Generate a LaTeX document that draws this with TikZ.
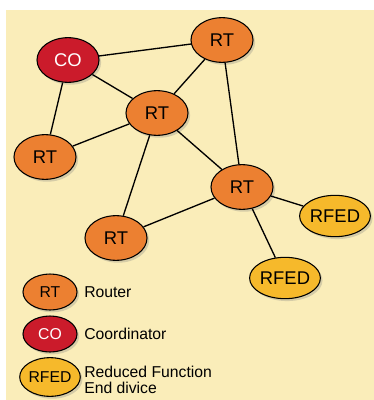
\documentclass[tikz,border=0pt]{standalone}
\usepackage{fontspec}
\setmainfont{Liberation Sans}
\usetikzlibrary{shapes.geometric,shadows}
\definecolor{paper}{HTML}{FAEDB9}
\definecolor{rtorange}{HTML}{EC8031}
\definecolor{cored}{HTML}{CB1B2B}
\definecolor{fedyellow}{HTML}{F6B92B}
\tikzset{
    dev/.style = {
        draw = black,
        line width = 0.8pt,
        ellipse,
        inner sep = 0pt,
        minimum width = 46.5pt,
        minimum height = 33.5pt,
        font = \fontsize{13.8}{14}\selectfont,
        drop shadow = {shadow xshift=1.6pt, shadow yshift=-1.8pt, opacity=0.3},
        },
    router/.style = {
        dev,
        fill = rtorange,
        },
    coord/.style = {
        dev,
        fill = cored,
        text = white,
        },
    rfed/.style = {
        dev,
        fill = fedyellow,
        minimum height = 31pt,
        },
    small/.style = {
        minimum width = 40.5pt,
        minimum height = 27pt,
        font = \fontsize{11.8}{12}\selectfont,
        },
    link/.style = {
        draw = black,
        line width = 1pt,
        },
    label/.style = {
        anchor = west,
        align = left,
        inner sep = 0pt,
        font = \fontsize{11.8}{12.5}\selectfont,
        },
}
\begin{document}
\begin{tikzpicture}[x=0.75pt, y=-0.75pt]
    \useasboundingbox (0,0) rectangle (374,400);
    \fill[paper] (6,10) rectangle (374,400);

    % network
    \node[coord] (co) at (68,60) {CO};
    \node[router] (rt1) at (222,40) {RT};
    \node[router] (rt2) at (157,113) {RT};
    \node[router] (rt3) at (45,157) {RT};
    \node[router] (rt4) at (242,187) {RT};
    \node[router] (rt5) at (116,238) {RT};
    \node[rfed] (fed1) at (335,216) {RFED};
    \node[rfed] (fed2) at (285,278) {RFED};

    \path[link] (co) -- (rt1);
    \path[link] (co) -- (rt2);
    \path[link] (co) -- (rt3);
    \path[link] (rt1) -- (rt2);
    \path[link] (rt1) -- (rt4);
    \path[link] (rt2) -- (rt3);
    \path[link] (rt2) -- (rt4);
    \path[link] (rt2) -- (rt5);
    \path[link] (rt4) -- (rt5);
    \path[link] (rt4) -- (fed1);
    \path[link] (rt4) -- (fed2);

    % legend
    \node[router, small] (keyrt) at (50,292) {RT};
    \node[coord, small] (keyco) at (50,334) {CO};
    \node[rfed, small, minimum height=29pt] (keyfed) at (50,377) {RFED};
    \node[label] (txtrt) at (84,292) {Router};
    \node[label] (txtco) at (84,334) {Coordinator};
    \node[label] (txtfed) at (84,380) {Reduced Function\\End divice};
\end{tikzpicture}
\end{document}
